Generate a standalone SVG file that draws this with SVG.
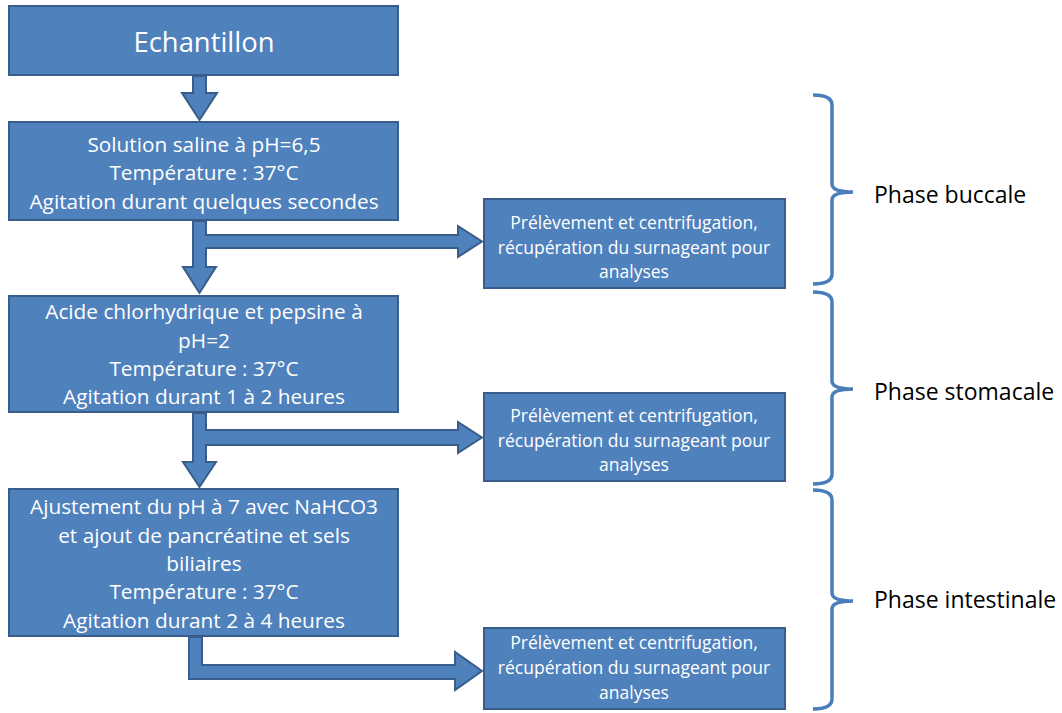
<svg xmlns="http://www.w3.org/2000/svg" width="1062" height="713" viewBox="0 0 1062 713">
<style>
.box{fill:#4F81BD;stroke:#385D8A;stroke-width:2}
.arr{fill:#4F81BD;stroke:#385D8A;stroke-width:2;stroke-linejoin:miter}
.t{font-family:"Open Sans","Liberation Sans",sans-serif;fill:#FFFFFF;text-anchor:middle}
.m{font-size:20.8px}
.s{font-size:17.5px}
.brace{fill:none;stroke:#4A7EBB;stroke-width:3.5}
.lbl{font-family:"Open Sans","Liberation Sans",sans-serif;font-size:23px;fill:#000000}
</style>
<rect width="1062" height="713" fill="#FFFFFF"/>
<g id="connectors">
<polygon class="arr" points="193,76 206,76 206,93 217,93 199.5,120 182,93 193,93"/>
<polygon class="arr" points="193,221 206,221 206,235 458,235 458,226 482,241.5 458,257 458,248 206,248 206,267 216,267 199.5,293 183,267 193,267"/>
<polygon class="arr" points="193,413 206,413 206,430 458,430 458,422 482,437.5 458,453 458,445 206,445 206,462 216,462 199.5,487 183,462 193,462"/>
<polygon class="arr" points="189,637 202,637 202,665 455,665 455,652 482,671 455,690 455,679 189,679"/>
</g>
<g id="n-echantillon">
<rect class="box" x="9" y="6" width="389" height="69"/>
<text class="t" x="204" y="52" font-size="27.4">Echantillon</text>
</g>
<g id="n-buccale">
<rect class="box" x="9" y="122" width="389" height="98"/>
<text class="t m" x="204" y="152">Solution saline à pH=6,5</text>
<text class="t m" x="204" y="180">Température : 37°C</text>
<text class="t m" x="204" y="209">Agitation durant quelques secondes</text>
</g>
<g id="n-prel1">
<rect class="box" x="484" y="199" width="301" height="89"/>
<text class="t s" x="634" y="229">Prélèvement et centrifugation,</text>
<text class="t s" x="634" y="254">récupération du surnageant pour</text>
<text class="t s" x="634" y="278">analyses</text>
</g>
<g id="n-stomacale">
<rect class="box" x="9" y="296" width="389" height="116"/>
<text class="t m" x="204" y="319">Acide chlorhydrique et pepsine à</text>
<text class="t m" x="204" y="348">pH=2</text>
<text class="t m" x="204" y="376">Température : 37°C</text>
<text class="t m" x="204" y="404">Agitation durant 1 à 2 heures</text>
</g>
<g id="n-prel2">
<rect class="box" x="484" y="393" width="301" height="88"/>
<text class="t s" x="634" y="422">Prélèvement et centrifugation,</text>
<text class="t s" x="634" y="447">récupération du surnageant pour</text>
<text class="t s" x="634" y="471">analyses</text>
</g>
<g id="n-intestinale">
<rect class="box" x="9" y="489" width="389" height="147"/>
<text class="t m" x="204" y="514">Ajustement du pH à 7 avec NaHCO3</text>
<text class="t m" x="204" y="543">et ajout de pancréatine et sels</text>
<text class="t m" x="204" y="571">biliaires</text>
<text class="t m" x="204" y="599">Température : 37°C</text>
<text class="t m" x="204" y="628">Agitation durant 2 à 4 heures</text>
</g>
<g id="n-prel3">
<rect class="box" x="484" y="628" width="301" height="81"/>
<text class="t s" x="634" y="649">Prélèvement et centrifugation,</text>
<text class="t s" x="634" y="674">récupération du surnageant pour</text>
<text class="t s" x="634" y="699">analyses</text>
</g>
<g id="phase-buccale">
<path class="brace" d="M813,95 Q832,95 832,105 L832,184 Q832,192 853,192 Q832,192 832,200 L832,274 Q832,284 813,284"/>
<text class="lbl" x="874" y="203">Phase buccale</text>
</g>
<g id="phase-stomacale">
<path class="brace" d="M813,292 Q832,292 832,302 L832,381 Q832,389 853,389 Q832,389 832,397 L832,474 Q832,484 813,484"/>
<text class="lbl" x="874" y="400">Phase stomacale</text>
</g>
<g id="phase-intestinale">
<path class="brace" d="M813,490 Q832,490 832,500 L832,593 Q832,601 853,601 Q832,601 832,609 L832,699 Q832,709 813,709"/>
<text class="lbl" x="874" y="608">Phase intestinale</text>
</g>
</svg>
